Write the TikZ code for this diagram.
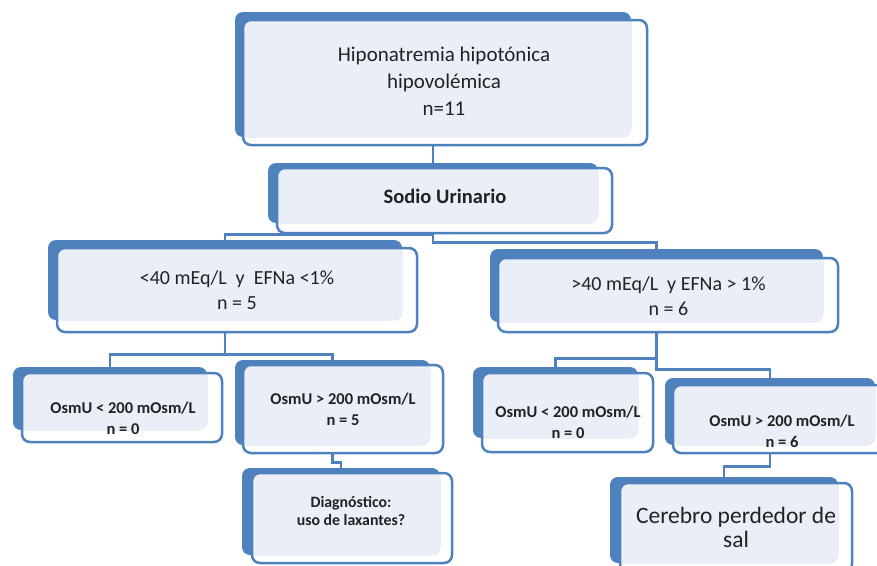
\documentclass[tikz,border=0pt]{standalone}
\usepackage{fontspec}
\setmainfont{Carlito}
\definecolor{azul}{HTML}{4F81BD}
\definecolor{claro}{HTML}{EAEFF7}
\definecolor{tinta}{HTML}{222222}
\tikzset{
  fondo/.style={fill=azul, rounded corners=8pt, inner sep=0pt},
  frente/.style={draw=azul, line width=2.5pt, rounded corners=8pt, inner sep=0pt,
    path picture={\fill[claro] (#1.north west) rectangle (#1.south east);}},
  texto/.style={align=center, text=tinta, inner sep=0pt},
  grande/.style={texto, font=\fontsize{20}{25}\selectfont},
  chico/.style={texto, font=\bfseries\fontsize{16.5}{21}\selectfont},
  linea/.style={draw=azul, line width=2.5pt},
}
\begin{document}
\begin{tikzpicture}[x=1pt, y=-1pt]
        \clip (0,0) rectangle (877,565);

        % Caja principal
        \node[fondo, minimum width=396pt, minimum height=125pt] (raiz) at (433,74.5) {};
        \node[frente=raiz, minimum width=404pt, minimum height=125pt] (raizF) at (445,82.5) {};
        \node[texto, font=\fontsize{21}{27}\selectfont] (raizT) at (444,81.5) {Hiponatremia hipotónica\\hipovolémica\\n=11};

        % Sodio urinario
        \node[fondo, minimum width=330pt, minimum height=60pt] (sodio) at (433,193) {};
        \node[frente=sodio, minimum width=335pt, minimum height=65pt] (sodioF) at (444.5,200.5) {};
        \node[texto, font=\bfseries\fontsize{20.5}{25}\selectfont] (sodioT) at (445,196) {Sodio Urinario};

        % Ramas por sodio urinario
        \node[fondo, minimum width=354pt, minimum height=80pt] (bajo) at (225,280) {};
        \node[frente=bajo, minimum width=360pt, minimum height=84pt] (bajoF) at (237,290) {};
        \node[grande] (bajoT) at (237,290.5) {<40 mEq/L\ \ y\ \ EFNa <1\%\\n = 5};

        \node[fondo, minimum width=333pt, minimum height=73pt] (alto) at (656.5,285.5) {};
        \node[frente=alto, minimum width=340pt, minimum height=74pt] (altoF) at (668,295) {};
        \node[grande] (altoT) at (668.5,296.5) {>40 mEq/L\ \ y EFNa > 1\%\\n = 6};

        % Osmolaridad urinaria
        \node[fondo, minimum width=194pt, minimum height=63pt] (bajoA) at (110,398.5) {};
        \node[frente=bajoA, minimum width=200pt, minimum height=69pt] (bajoAF) at (122,407.5) {};
        \node[chico] (bajoAT) at (123,418) {OsmU < 200 mOsm/L\\n = 0};

        \node[fondo, minimum width=195pt, minimum height=85pt] (bajoB) at (332.5,402.5) {};
        \node[frente=bajoB, minimum width=200pt, minimum height=88pt] (bajoBF) at (343,409) {};
        \node[chico] (bajoBT) at (343,409.5) {OsmU > 200 mOsm/L\\n = 5};

        \node[fondo, minimum width=165pt, minimum height=71pt] (altoA) at (555.5,402.5) {};
        \node[frente=altoA, minimum width=171pt, minimum height=79pt] (altoAF) at (567.5,412.5) {};
        \node[chico] (altoAT) at (568,422) {OsmU < 200 mOsm/L\\n = 0};

        \node[fondo, minimum width=210pt, minimum height=67pt] (altoB) at (770,411.5) {};
        \node[frente=altoB, minimum width=219pt, minimum height=68pt] (altoBF) at (782.5,419) {};
        \node[chico] (altoBT) at (782,431) {OsmU > 200 mOsm/L\\n = 6};

        % Diagnosticos
        \node[fondo, minimum width=198pt, minimum height=87pt] (diag) at (341,511.5) {};
        \node[frente=diag, minimum width=200pt, minimum height=90pt] (diagF) at (352,518) {};
        \node[texto, font=\bfseries\fontsize{15.8}{18.5}\selectfont] (diagT) at (351,511) {Diagnóstico:\\uso de laxantes?};

        \node[fondo, minimum width=228pt, minimum height=86pt] (cerebro) at (724,520) {};
        \node[frente=cerebro, minimum width=232pt, minimum height=89pt] (cerebroF) at (736,527.5) {};
        \node[texto, font=\fontsize{23.5}{24}\selectfont] (cerebroT) at (736,527) {Cerebro perdedor de\\sal};

        % Conectores
        \draw[linea] (raiz |- raizF.south) -- (sodio.north);
        \draw[linea] (sodio |- sodioF.south) -| (bajo.north);
        \draw[linea] (sodio |- sodioF.south) -- ++(0,8) -| (alto.north);
        \draw[linea] (bajo |- bajoF.south) -- ++(0,21) -| (bajoA.north);
        \draw[linea] (bajo |- bajoF.south) -- ++(0,21) -| (bajoB.north);
        \draw[linea] (alto |- altoF.south) -- ++(0,25) -| (altoA.north);
        \draw[linea] (alto |- altoF.south) -- ++(0,36) -| (altoB.north);
        \draw[linea] (bajoB |- bajoBF.south) -- ++(0,8) -| (diag.north);
        \draw[linea] (altoB |- altoBF.south) -- ++(0,12) -| (cerebro.north);
\end{tikzpicture}
\end{document}
